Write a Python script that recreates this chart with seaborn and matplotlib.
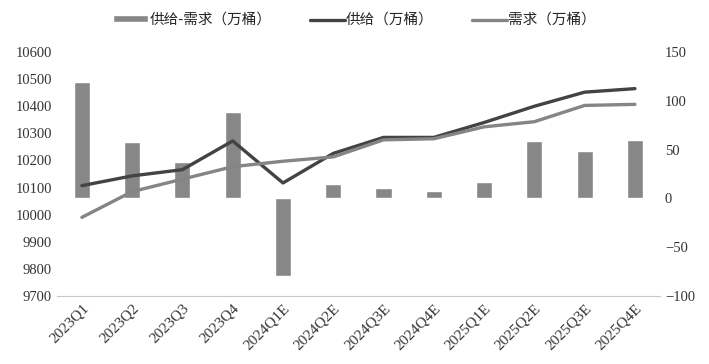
import matplotlib.pyplot as plt
import pandas as pd
import seaborn as sns

quarters = ["2023Q1", "2023Q2", "2023Q3", "2023Q4", "2024Q1E", "2024Q2E",
            "2024Q3E", "2024Q4E", "2025Q1E", "2025Q2E", "2025Q3E", "2025Q4E"]
supply = [10107, 10143, 10166, 10272, 10117, 10226, 10285, 10285, 10340, 10400, 10452, 10465]
demand = [9990, 10085, 10131, 10177, 10197, 10213, 10276, 10280, 10324, 10343, 10403, 10407]
gap = [119, 58, 37, 89, -80, 15, 11, 8, 17, 59, 49, 60]

df = pd.DataFrame({"quarter": quarters, "supply": supply, "demand": demand, "gap": gap})

sns.set_style("white")
plt.rcParams["font.family"] = ["Liberation Serif", "Noto Sans CJK SC"]

fig = plt.figure(figsize=(7.09, 3.64), dpi=100)
ax = fig.add_axes([0.080, 0.187, 0.851, 0.670])
ax2 = ax.twinx()

# bars on the right axis, drawn behind the lines
sns.barplot(data=df, x="quarter", y="gap", ax=ax2, color="#878787",
            saturation=1, width=0.32, label="供给-需求（万桶）")
sns.lineplot(data=df, x="quarter", y="supply", ax=ax, color="#434343",
             linewidth=2.4, label="供给（万桶）")
sns.lineplot(data=df, x="quarter", y="demand", ax=ax, color="#858585",
             linewidth=2.4, label="需求（万桶）")
ax.set_zorder(ax2.get_zorder() + 1)
ax.patch.set_visible(False)

ax.set_ylim(9700, 10600)
ax.set_yticks(range(9700, 10601, 100))
ax2.set_ylim(-100, 150)
ax2.set_yticks(range(-100, 151, 50))
ax.set_xlim(-0.5, 11.5)
ax.set_xlabel("")
ax.set_ylabel("")
ax2.set_ylabel("")

for a in (ax, ax2):
    for s in a.spines.values():
        s.set_visible(False)
    a.tick_params(length=0, labelsize=10.5, colors="#333333")
ax.tick_params(axis="x", labelsize=11, pad=4)
ax.spines["bottom"].set_visible(True)
ax.spines["bottom"].set_color("#c8c8c8")
ax.set_xticks(range(len(quarters)))
ax.set_xticklabels(quarters, rotation=45, ha="right", rotation_mode="anchor")
ax2.set_yticklabels([f"{v}".replace("-", "\u2212") for v in range(-100, 151, 50)])

h1, l1 = ax2.get_legend_handles_labels()
h2, l2 = ax.get_legend_handles_labels()
for a in (ax, ax2):
    if a.get_legend():
        a.get_legend().remove()
fig.legend(h1 + h2, l1 + l2, loc="center", bbox_to_anchor=(0.5, 0.945),
           ncol=3, frameon=False, handlelength=2.4, handleheight=0.4,
           columnspacing=2.6, handletextpad=0.1,
           prop={"family": ["Noto Sans CJK SC"], "size": 10.5})

fig.savefig("out.png", dpi=100)
